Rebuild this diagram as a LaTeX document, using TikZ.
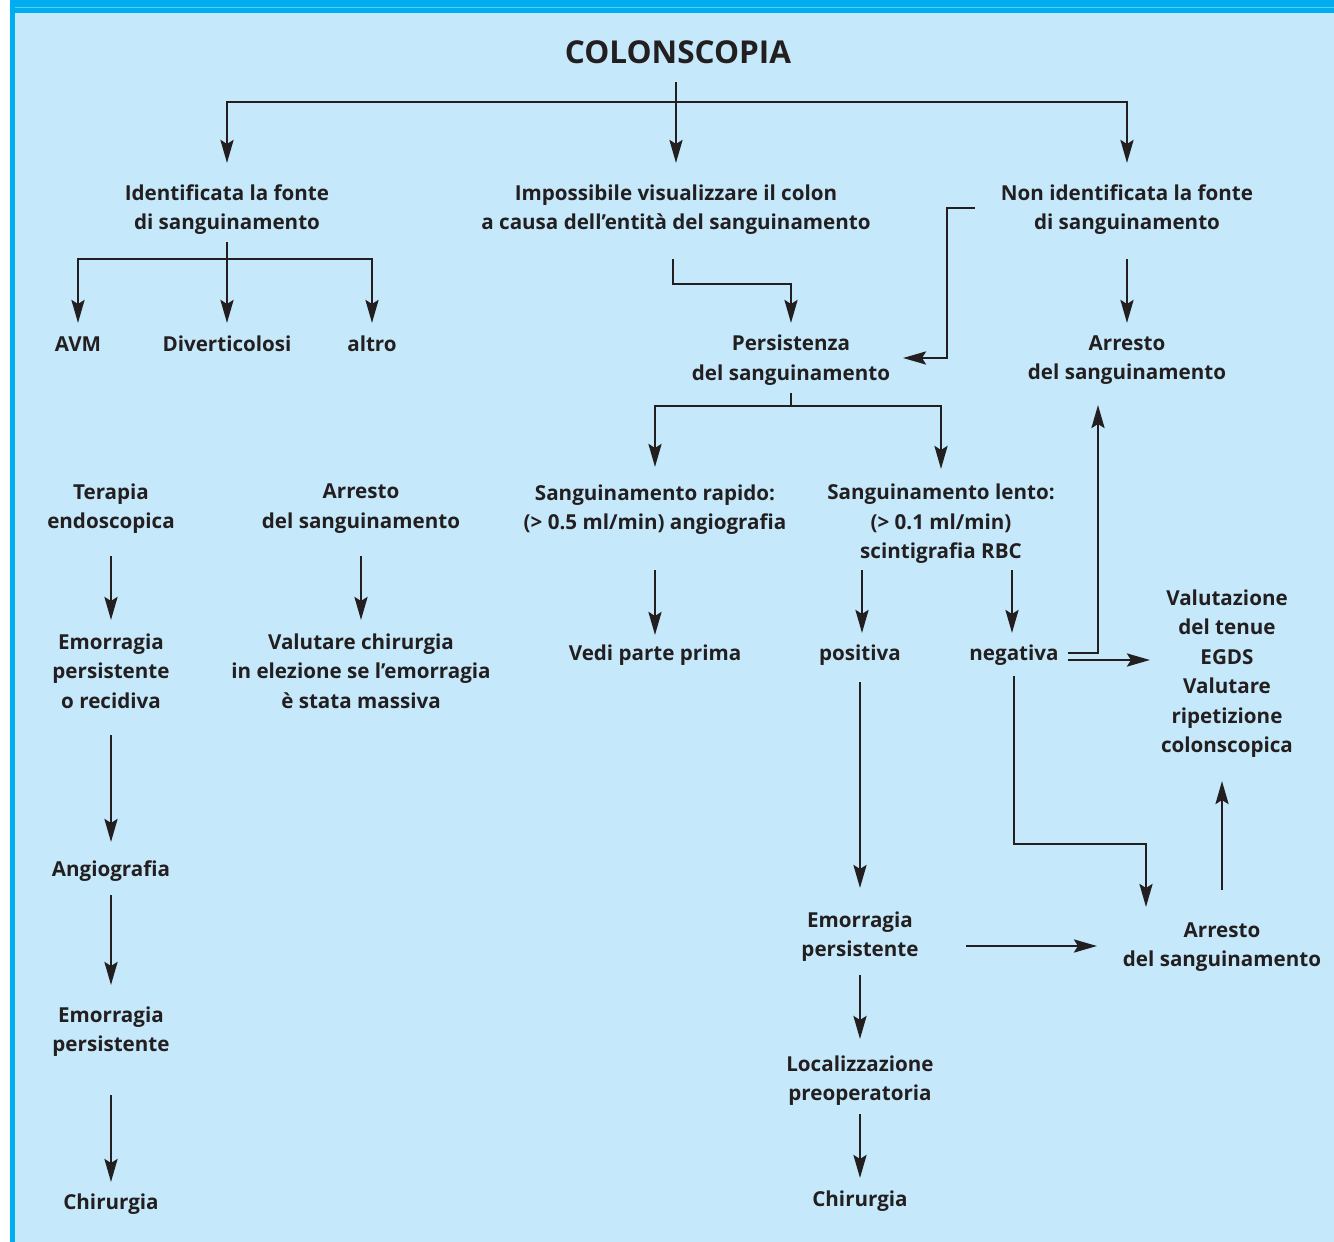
\documentclass[tikz,border=0pt]{standalone}
\usepackage{fontspec}
\setmainfont{Open Sans}
\usetikzlibrary{arrows.meta,calc}
\definecolor{bandblue}{HTML}{00AEEF}
\definecolor{bandline}{HTML}{5CCBF5}
\definecolor{bglight}{HTML}{C5E9FA}
\definecolor{ink}{HTML}{231F20}
\begin{document}
\begin{tikzpicture}[x=1pt,y=1pt,
  txt/.style={font=\fontsize{20.6}{29.5}\selectfont\bfseries, text=ink, align=center, inner sep=0pt, yshift=-2pt},
  ttl/.style={font=\fontsize{31.5}{34}\selectfont\bfseries, text=ink, inner sep=0pt},
  ln/.style={draw=ink, line width=2.9pt, line join=miter},
  arr/.style={ln, -{Stealth[length=23pt,width=13pt,inset=4pt]}},
  both/.style={ln, {Stealth[length=23pt,width=13pt,inset=4pt]}-{Stealth[length=23pt,width=13pt,inset=4pt]}}]
\useasboundingbox (0,0) rectangle (1334,-1242);
% background
\fill[white] (0,0) rectangle (1334,-1242);
\fill[bandblue] (10,0) rectangle (1334,-12.5);
\fill[bandblue] (10,0) rectangle (15,-1242);
\draw[bandline, line width=0.7pt] (15,-7) -- (1334,-7);
\fill[bglight] (15,-12.5) rectangle (1334,-1242);

% nodes
\node[ttl] (colon) at (678,-52) {COLONSCOPIA};
\node[txt] (ident) at (227,-207.5) {Identificata la fonte\\di sanguinamento};
\node[txt] (imposs) at (676,-207.5) {Impossibile visualizzare il colon\\a causa dell’entità del sanguinamento};
\node[txt] (nonid) at (1127,-207.5) {Non identificata la fonte\\di sanguinamento};
\node[txt] (avm) at (78,-342) {AVM};
\node[txt] (diver) at (227,-342) {Diverticolosi};
\node[txt] (altro) at (372,-342) {altro};
\node[txt] (persist) at (791,-358) {Persistenza\\del sanguinamento};
\node[txt] (arresto1) at (1127,-358) {Arresto\\del sanguinamento};
\node[txt] (rapido) at (655,-507.5) {Sanguinamento rapido:\\(> 0.5 ml/min) angiografia};
\node[txt] (lento) at (941,-522) {Sanguinamento lento:\\(> 0.1 ml/min)\\scintigrafia RBC};
\node[txt] (terapia) at (111,-506.5) {Terapia\\endoscopica};
\node[txt] (arresto2) at (361,-506.5) {Arresto\\del sanguinamento};
\node[txt] (emorr1) at (111,-669) {Emorragia\\persistente\\o recidiva};
\node[txt] (valchir) at (361,-669) {Valutare chirurgia\\in elezione se l’emorragia\\è stata massiva};
\node[txt] (vedi) at (655,-653) {Vedi parte prima};
\node[txt] (positiva) at (860,-653) {positiva};
\node[txt] (negativa) at (1014,-653) {negativa};
\node[txt] (valut) at (1227,-671.5) {Valutazione\\del tenue\\EGDS\\Valutare\\ripetizione\\colonscopica};
\node[txt] (angio) at (111,-869) {Angiografia};
\node[txt] (emorr2) at (111,-1029.5) {Emorragia\\persistente};
\node[txt] (chir1) at (111,-1202) {Chirurgia};
\node[txt] (emorr3) at (860,-934.5) {Emorragia\\persistente};
\node[txt] (arresto3) at (1222,-945) {Arresto\\del sanguinamento};
\node[txt] (local) at (860,-1078.5) {Localizzazione\\preoperatoria};
\node[txt] (chir2) at (860,-1199) {Chirurgia};

% free-end coordinates
\coordinate (nonidout) at (975,-208);
\coordinate (persin) at (903,-358);
\coordinate (imposout) at (673,-259);
\coordinate (negup) at (1068,-653);
\coordinate (arr1in) at (1098,-405);
\coordinate (negright) at (1068,-660);
\coordinate (valin) at (1150,-660);
\coordinate (negdown) at (1014,-676);
\coordinate (arr3in) at (1146,-907);
\coordinate (em3out) at (966,-946);
\coordinate (arr3left) at (1097,-946);

% connectors: top tree
\draw[arr] (imposs |- 0,-82) -- (imposs |- 0,-163);
\draw[both] (ident |- 0,-163) |- (nonid |- 0,-102) -- (nonid |- 0,-163);
% identificata branch
\draw[arr] (ident |- 0,-242) -- (ident |- 0,-323);
\draw[both] (avm |- 0,-323) |- (altro |- 0,-259) -- (altro |- 0,-323);
% impossibile -> persistenza
\draw[arr] (imposout) |- (persist |- 0,-284) -- (persist |- 0,-323);
% non identificata -> persistenza, arresto
\draw[arr] (nonidout) -- (947,-208) |- (persin);
\draw[arr] (nonid |- 0,-259) -- (nonid |- 0,-323);
% persistenza branch
\draw[ln] (persist |- 0,-393) -- (persist |- 0,-406);
\draw[both] (rapido |- 0,-467) |- (lento |- 0,-406) -- (lento |- 0,-469);
% rapido, lento
\draw[arr] (rapido |- 0,-570) -- (rapido |- 0,-635);
\draw[arr] (862,-570) -- (862,-633);
\draw[arr] (1012,-570) -- (1012,-633);
% negativa
\draw[arr] (negup) -| (arr1in);
\draw[arr] (negright) -- (valin);
\draw[arr] (negdown) |- (arr3in |- 0,-844) -- (arr3in);
% arresto3 -> valutazione
\draw[arr] (arresto3 |- 0,-890) -- (arresto3 |- 0,-781);
% positiva chain
\draw[arr] (positiva |- 0,-682) -- (positiva |- 0,-888);
\draw[arr] (em3out) -- (arr3left);
\draw[arr] (emorr3 |- 0,-975) -- (emorr3 |- 0,-1039);
\draw[arr] (local |- 0,-1114) -- (local |- 0,-1178);
% left column
\draw[arr] (terapia |- 0,-556) -- (terapia |- 0,-620);
\draw[arr] (emorr1 |- 0,-735) -- (emorr1 |- 0,-842);
\draw[arr] (angio |- 0,-895) -- (angio |- 0,-985);
\draw[arr] (emorr2 |- 0,-1095) -- (emorr2 |- 0,-1182);
\draw[arr] (arresto2 |- 0,-556) -- (arresto2 |- 0,-620);
\end{tikzpicture}
\end{document}
